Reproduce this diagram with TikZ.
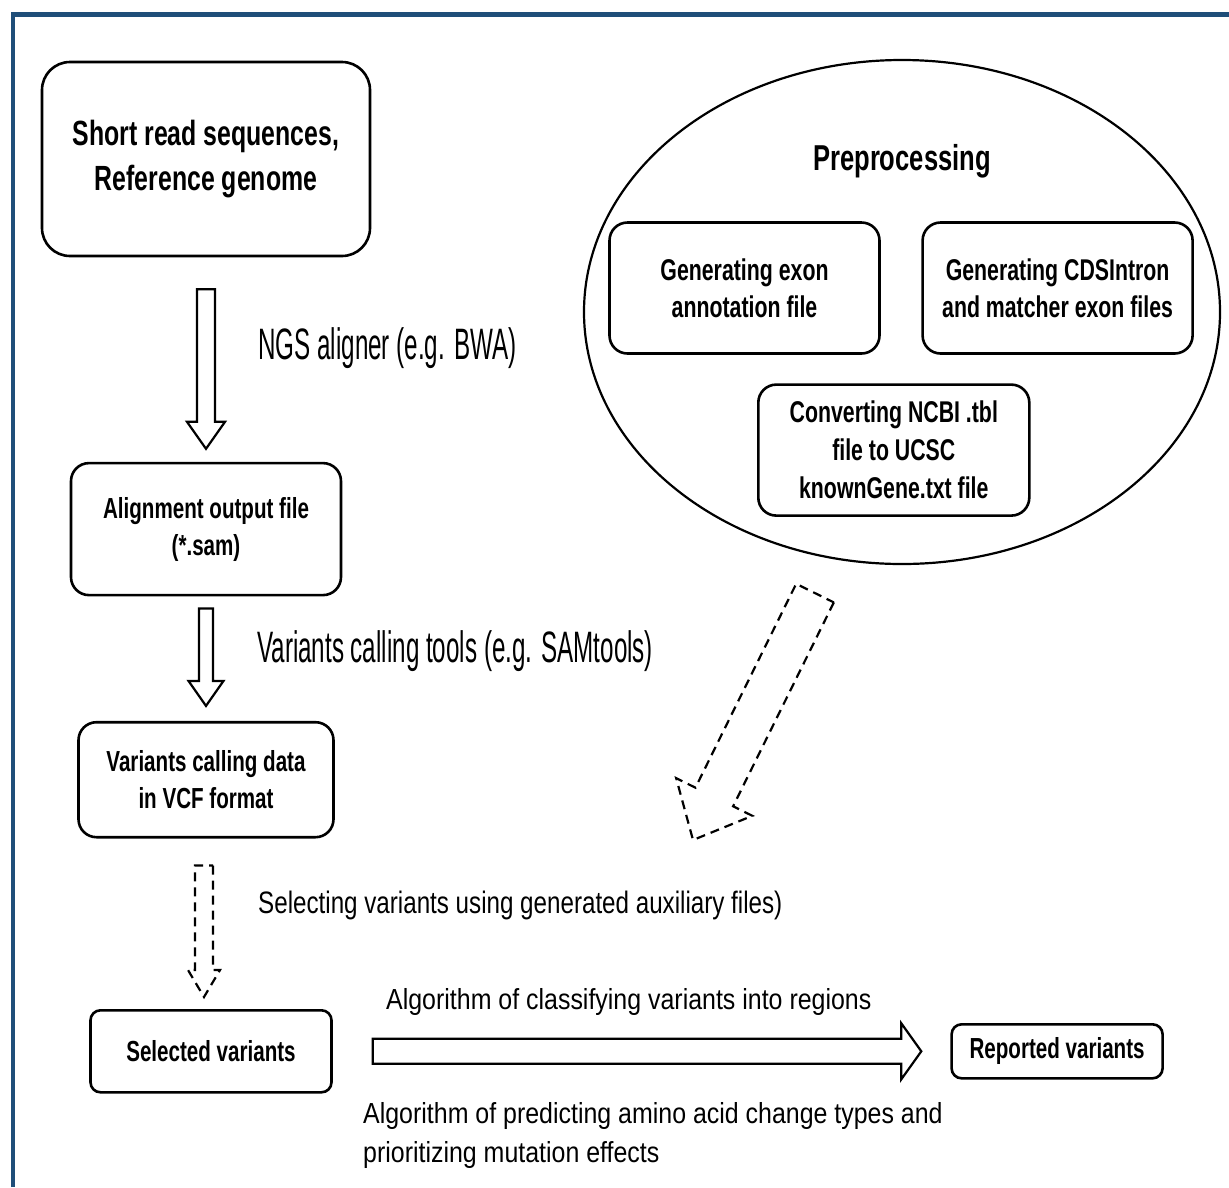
\documentclass[tikz,border=0pt]{standalone}
\usepackage{fontspec}
\setmainfont{Liberation Sans}
\newfontfamily\boxsans{Liberation Sans}[FakeStretch=0.71]
\newfontfamily\tallsans{Liberation Sans}[FakeStretch=0.55]
\newfontfamily\midsans{Liberation Sans}[FakeStretch=0.78]
\newfontfamily\widesans{Liberation Sans}[FakeStretch=0.86]
\usetikzlibrary{positioning,shapes.geometric,calc}
\definecolor{frameblue}{RGB}{31,78,121}

% block arrow: start, tip, half shaft width, half head width, head length
\newcommand{\hollowarrow}[6][]{%
  \coordinate (ba-s) at (#2);
  \coordinate (ba-e) at (#3);
  \coordinate (ba-h) at ($(ba-e)!#6!(ba-s)$);
  \draw[#1] ($(ba-s)!#4!90:(ba-e)$) -- ($(ba-h)!#4!-90:(ba-s)$) -- ($(ba-h)!#5!-90:(ba-s)$)
    -- (ba-e) -- ($(ba-h)!#5!90:(ba-s)$) -- ($(ba-h)!#4!90:(ba-s)$) -- ($(ba-s)!#4!-90:(ba-e)$) -- cycle;
}

\begin{document}
\begin{tikzpicture}[x=1pt, y=-1pt,
	procbox/.style={draw, line width=2.6pt, align=center, inner sep=0pt, font=\boxsans\bfseries\fontsize{29}{37}\selectfont},
	hollow/.style={draw, line width=2.2pt, fill=white, line join=miter},
	dashhollow/.style={hollow, dash pattern=on 9pt off 6pt},
	steplabel/.style={anchor=base west, inner sep=0pt}]
	\useasboundingbox (0,0) rectangle (1229,1187);
	\draw[frameblue, line width=4.5pt] (13,1187) -- (13,14.5) -- (1229,14.5);

	% main pipeline
	\node (short) [procbox, rounded corners=28pt, minimum width=328pt, minimum height=194pt, font=\boxsans\bfseries\fontsize{35}{45}\selectfont] at (206,159)
	{Short read sequences,\\Reference genome};
	\node (align) [procbox, rounded corners=18pt, minimum width=270pt, minimum height=132pt, below=204.5pt of short]
	{Alignment output file\\(*.sam)};
	\node (vcf) [procbox, rounded corners=18pt, minimum width=255pt, minimum height=115pt, below=124.5pt of align]
	{Variants calling data\\in VCF format};
	\node (sel) [procbox, rounded corners=10pt, minimum width=241pt, minimum height=82pt, below=170.5pt of vcf, xshift=5pt]
	{Selected variants};
	\node (rep) [procbox, rounded corners=10pt, minimum width=211pt, minimum height=54pt, right=617.5pt of sel]
	{Reported variants};

	% preprocessing
	\node (prep) [ellipse, draw, line width=2.2pt, minimum width=636pt, minimum height=504pt, inner sep=0pt] at (902,312) {};
	\node (preptitle) [anchor=base, font=\boxsans\bfseries\fontsize{36}{44}\selectfont] at ($(prep.north)+(0,112)$) {Preprocessing};
	\node (exon) [procbox, rounded corners=18pt, minimum width=270pt, minimum height=131pt, font=\boxsans\bfseries\fontsize{30}{37}\selectfont] at (744.5,288)
	{Generating exon\\annotation file};
	\node (cds) [procbox, rounded corners=18pt, minimum width=270pt, minimum height=131pt, font=\boxsans\bfseries\fontsize{30}{37}\selectfont, right=40.5pt of exon]
	{Generating CDSIntron\\and matcher exon files};
	\node (ncbi) [procbox, rounded corners=18pt, minimum width=271pt, minimum height=131pt, font=\boxsans\bfseries\fontsize{30}{38}\selectfont, below=28.5pt of exon.south east, xshift=13pt]
	{Converting NCBI .tbl\\file to UCSC\\knownGene.txt file};
	\coordinate (seltip) at (693,840);

	% arrows
	\hollowarrow[hollow]{$(short.south)+(0,32)$}{$(short.south |- align.north)+(0,-13)$}{9pt}{19pt}{27pt}
	\hollowarrow[hollow]{$(align.south)+(0,12)$}{$(align.south |- vcf.north)+(0,-15)$}{7pt}{17.5pt}{25pt}
	\hollowarrow[dashhollow]{$(vcf.south)+(-2,27)$}{$(vcf.south |- sel.north)+(-2,-12)$}{9pt}{16pt}{27pt}
	\hollowarrow[hollow]{$(sel.east)+(40,0)$}{$(rep.west)+(-29,0)$}{12.5pt}{28pt}{20pt}
	\hollowarrow[dashhollow]{$(prep.south)+(-87,28)$}{seltip}{21pt}{42.5pt}{48pt}

	% labels
	\node (ngs) [steplabel, font=\tallsans\fontsize{44}{50}\selectfont] at (258,359) {NGS aligner (e.g. BWA)};
	\node (calling) [steplabel, font=\tallsans\fontsize{44}{50}\selectfont] at (257,662) {Variants calling tools (e.g. SAMtools)};
	\node (selecting) [steplabel, font=\midsans\fontsize{31}{38}\selectfont] at (258,913) {Selecting variants using generated auxiliary files)};
	\node (classify) [steplabel, font=\widesans\fontsize{29}{39}\selectfont] at (386,1009) {Algorithm of classifying variants into regions};
	\node (predict) [steplabel, align=left, font=\widesans\fontsize{29}{39}\selectfont] at (363,1162)
	{Algorithm of predicting amino acid change types and\\prioritizing mutation effects};
\end{tikzpicture}
\end{document}
